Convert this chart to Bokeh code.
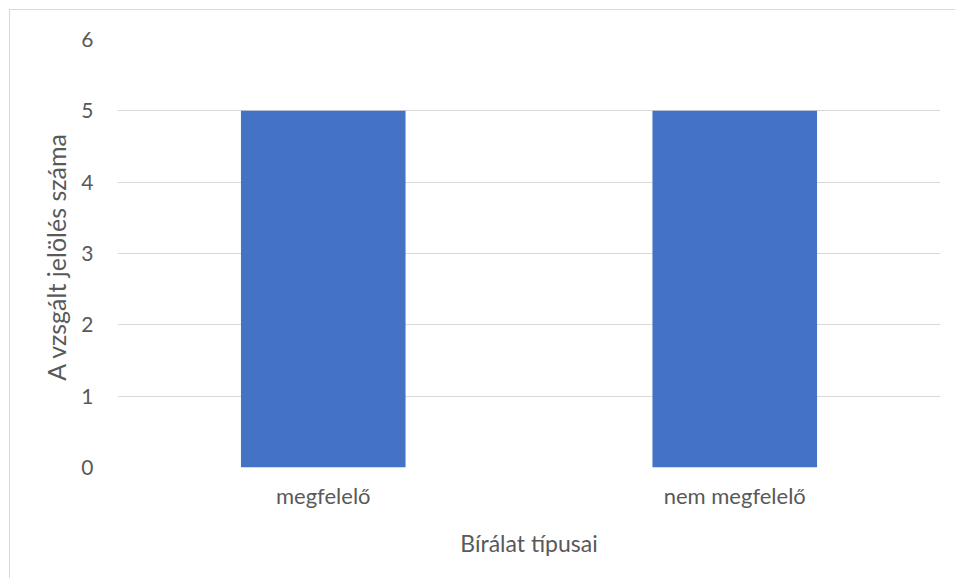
from bokeh.plotting import figure
from bokeh.models import FactorRange, Range1d, FixedTicker, ColumnDataSource
from bokeh.embed import file_html
from bokeh.resources import INLINE

categories = ["megfelelő", "nem megfelelő"]
counts = [5, 5]
y_ticks = [0, 1, 2, 3, 4, 5, 6]

src = ColumnDataSource(dict(cat=categories, val=counts))

p = figure(
    x_range=FactorRange(*categories, range_padding=0),
    y_range=Range1d(0, 6),
    width=946, height=569,
    output_backend="svg", toolbar_location=None,
    min_border_left=107, min_border_right=16, min_border_top=29, min_border_bottom=112,
)
p.margin = (9, 0, 0, 9)
p.styles = {"border-top": "1px solid #D9D9D9", "border-left": "1px solid #D9D9D9"}
p.outline_line_color = None
p.background_fill_color = "white"
p.border_fill_color = "white"

p.vbar(x="cat", top="val", width=0.4, source=src, color="#4472C4", line_color=None)

font = "Lato"
p.yaxis.ticker = FixedTicker(ticks=y_ticks)
p.yaxis.axis_line_color = None
p.yaxis.major_tick_line_color = None
p.yaxis.minor_tick_line_color = None
p.yaxis.major_label_text_font = font
p.yaxis.major_label_text_font_size = "21px"
p.yaxis.major_label_text_color = "#595959"
p.yaxis.major_label_standoff = 18
p.yaxis.axis_label = "A vzsgált jelölés  száma"
p.yaxis.axis_label_text_font = font
p.yaxis.axis_label_text_font_size = "25px"
p.yaxis.axis_label_text_font_style = "normal"
p.yaxis.axis_label_text_color = "#595959"
p.yaxis.axis_label_standoff = 7

p.xaxis.axis_line_color = None
p.xaxis.major_tick_line_color = None
p.xaxis.minor_tick_line_color = None
p.xaxis.major_label_text_font = font
p.xaxis.major_label_text_font_size = "22px"
p.xaxis.major_label_text_color = "#595959"
p.xaxis.major_label_standoff = 8
p.xaxis.axis_label = "Bírálat típusai"
p.xaxis.axis_label_text_font = font
p.xaxis.axis_label_text_font_size = "23px"
p.xaxis.axis_label_text_font_style = "normal"
p.xaxis.axis_label_text_color = "#595959"
p.xaxis.axis_label_standoff = 17

p.xgrid.grid_line_color = None
p.ygrid.grid_line_color = "#D9D9D9"
p.ygrid.grid_line_width = 1

open("out.html", "w").write(file_html(p, INLINE))
